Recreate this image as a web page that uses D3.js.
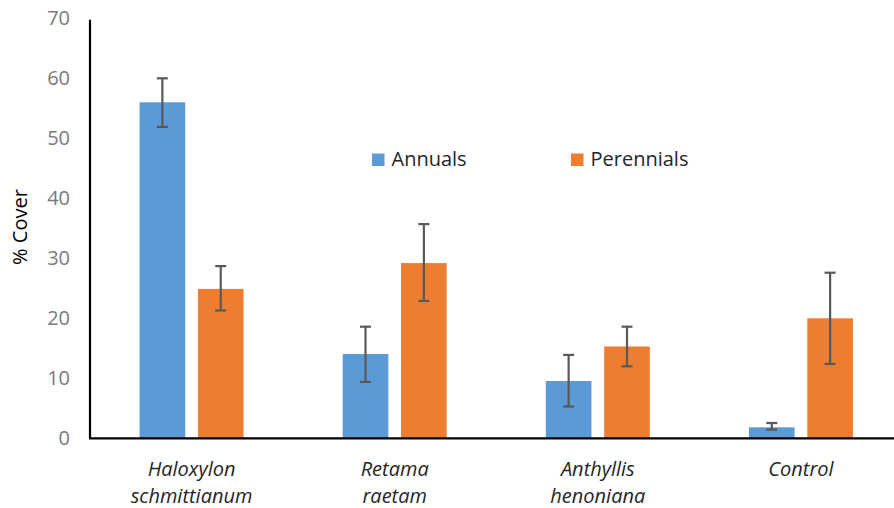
<!DOCTYPE html>
<html>
<head>
<meta charset="utf-8">
<script src="https://cdn.jsdelivr.net/npm/d3@7"></script>
<style>
  html, body { margin: 0; padding: 0; background: #fff; }
  svg { display: block; font-family: "Open Sans", sans-serif; }
</style>
</head>
<body>
<svg id="chart" width="894" height="508"></svg>
<script>
// Plant cover by shrub species (mean ± error)
const categories = [["Haloxylon", "schmittianum"], ["Retama", "raetam"], ["Anthyllis", "henoniana"], ["Control"]];
const seriesNames = ["Annuals", "Perennials"];
const annuals      = [56, 14.05, 9.55, 1.83];
const annualsLow   = [51.9, 9.4, 5.3, 1.45];
const annualsHigh  = [60.0, 18.6, 13.9, 2.55];
const perennials     = [24.9, 29.2, 15.3, 20.0];
const perennialsLow  = [21.3, 22.9, 12.0, 12.4];
const perennialsHigh = [28.7, 35.7, 18.6, 27.6];
const yTicks = [0, 10, 20, 30, 40, 50, 60, 70];
const colors = ["#5B9BD5", "#ED7D31"];

const svg = d3.select("#chart");
const catKeys = categories.map(c => c.join(" "));

const x0 = d3.scaleBand().domain(catKeys).range([90, 902.5])
  .paddingInner(0.488).paddingOuter(0.244);
const x1 = d3.scaleBand().domain(seriesNames).range([0, x0.bandwidth()])
  .paddingInner(0.218);
const y = d3.scaleLinear().domain([0, 70]).range([438.3, 18.3]);

const rows = [];
catKeys.forEach((k, i) => {
  rows.push({cat: k, s: "Annuals", v: annuals[i], lo: annualsLow[i], hi: annualsHigh[i]});
  rows.push({cat: k, s: "Perennials", v: perennials[i], lo: perennialsLow[i], hi: perennialsHigh[i]});
});
const color = d3.scaleOrdinal().domain(seriesNames).range(colors);

// Bars
svg.append("g").selectAll("rect").data(rows).join("rect")
  .attr("x", d => x0(d.cat) + x1(d.s))
  .attr("width", x1.bandwidth())
  .attr("y", d => y(d.v))
  .attr("height", d => y(0) - y(d.v))
  .attr("fill", d => color(d.s));

// Error bars
const eb = svg.append("g").attr("stroke", "#595959").attr("stroke-width", 2.2);
rows.forEach(d => {
  const cx = x0(d.cat) + x1(d.s) + x1.bandwidth() / 2;
  eb.append("line").attr("x1", cx).attr("x2", cx).attr("y1", y(d.lo)).attr("y2", y(d.hi));
  [d.lo, d.hi].forEach(v => {
    eb.append("line").attr("x1", cx - 5.5).attr("x2", cx + 5.5).attr("y1", y(v)).attr("y2", y(v));
  });
});

// Y axis
const yAxis = svg.append("g").attr("transform", "translate(90,0)")
  .call(d3.axisLeft(y).tickValues(yTicks).tickSize(0).tickPadding(20));
yAxis.select(".domain").attr("stroke", "#000").attr("stroke-width", 2.2)
  .attr("d", `M0,${y(70) + 1.5}V${y(0)}`);
yAxis.selectAll("text").attr("font-size", 20).attr("fill", "#7a7a7a")
  .attr("font-family", "Open Sans, sans-serif");

// X axis baseline
svg.append("line").attr("x1", 89).attr("x2", 894).attr("y1", y(0)).attr("y2", y(0))
  .attr("stroke", "#000").attr("stroke-width", 2.2);

// Category labels
const lab = svg.append("g").attr("font-size", 20).attr("font-style", "italic")
  .attr("fill", "#262626").attr("text-anchor", "middle");
categories.forEach((lines, i) => {
  const cx = x0(catKeys[i]) + x0.bandwidth() / 2;
  lines.forEach((t, j) => {
    lab.append("text").attr("x", cx).attr("y", 475.5 + j * 27).text(t);
  });
});

// Y axis title
svg.append("text").attr("transform", "translate(27,227) rotate(-90)")
  .attr("text-anchor", "middle").attr("font-size", 20).attr("fill", "#000")
  .text("% Cover");

// Legend
const legendX = [372, 571];
seriesNames.forEach((s, i) => {
  const g = svg.append("g").attr("transform", `translate(${legendX[i]},153.5)`);
  g.append("rect").attr("width", 12.5).attr("height", 12.5).attr("fill", color(s));
  g.append("text").attr("x", 19.5).attr("y", 12.7).attr("font-size", 20)
    .attr("fill", "#262626").text(s);
});
</script>
</body>
</html>
